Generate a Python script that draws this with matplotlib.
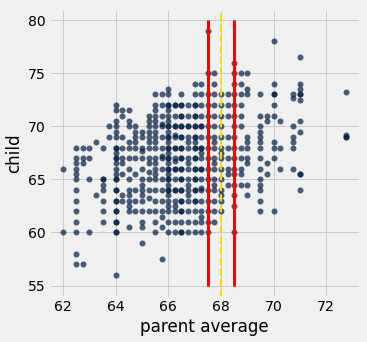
import numpy as np
from matplotlib import pyplot as plt

plt.style.use('fivethirtyeight')

# parent average columns and child heights
parent_cols = [62.0, 62.5, 62.75, 63.0, 63.25, 63.5, 63.75, 64.0, 64.25, 64.5,
               64.75, 65.0, 65.25, 65.5, 65.75, 66.0, 66.25, 66.5, 66.75, 67.0,
               67.25, 67.5, 67.75, 68.0, 68.25, 68.5, 68.75, 69.0, 69.5, 69.75,
               70.0, 70.25, 70.75, 71.0, 72.75]
child_cols = [
    [66, 60],
    [68, 67, 66.5, 66, 65.5, 65, 64, 63, 62, 61, 60, 58, 57],
    [68, 67, 66.5, 57],
    [68, 67, 65, 60],
    [68.5, 63.5],
    [68, 65, 65, 64.5, 64, 63, 62, 61],
    [70, 69],
    [72, 71.5, 70.5, 70, 69.5, 69, 68, 68, 67.5, 67, 67, 66.5, 66, 65.5, 65, 65,
     64, 64, 63, 63, 62, 62, 61, 61, 60, 60, 56],
    [71.5, 71, 69, 68, 67, 66.5, 65.5, 63.5, 63],
    [71.5, 70.5, 70, 68.5, 68, 67, 66, 65, 64, 63.5, 63, 62.5, 62, 60.5],
    [70, 69.5, 69, 68.5, 68, 67, 65.5, 64, 63, 62],
    [69.5, 69, 68, 67.7, 67, 66, 65, 64.5, 64, 63.5, 63, 62, 61, 60.5, 59],
    [71, 70.5, 70, 69.5, 69, 68.5, 68, 67, 66.5, 65.7, 65, 64, 63.2, 62],
    [73, 72, 71.5, 71, 70.5, 70, 69.5, 69, 68.5, 68, 67, 66.5, 66, 65.5, 65,
     64, 63, 62, 61, 60],
    [73, 72, 71, 70.2, 70, 69, 68, 67.2, 67, 66, 65, 64, 63, 62, 61.5, 60.5, 57.5],
    [73.5, 73, 72, 72, 71.5, 71, 70.5, 70, 70, 69.5, 69, 69, 68.5, 68, 68, 67.5,
     67, 67, 66.5, 66, 66, 65.5, 65, 65, 64.5, 64, 64, 63.5, 63, 62.5, 62, 61, 60],
    [72, 72, 71, 70, 70, 69.2, 69, 68, 68, 67, 66.7, 66, 66, 65, 64, 64, 63, 62.5,
     62, 61, 60],
    [73, 72, 72, 71, 71, 70, 70, 69, 69, 68, 68, 67, 67, 66, 66, 65, 65, 64, 64,
     63, 63, 62, 62, 61, 60, 60],
    [72, 71, 70, 70, 69, 68.5, 68, 67, 66.5, 66, 65, 64.5, 64, 63.5, 63, 62, 61, 60],
    [74, 73, 72, 72, 71, 71, 70, 70, 69, 69, 68.5, 68, 68, 67, 67, 66, 66, 65,
     65, 64, 64, 63, 63, 62, 61, 60],
    [74, 73, 72, 71, 70, 70, 69, 68, 68, 67.5, 67, 66, 66, 65, 64.2, 64, 63, 62,
     61.5, 61, 60],
    [79, 75, 73, 72, 71, 70, 69, 68, 67, 66, 65, 64, 63, 62, 61, 60],
    [75, 74, 73, 72, 71, 70, 69, 68.5, 68, 67, 66.5, 66, 65, 64.5, 64, 63, 62, 61],
    [73, 72, 71, 70, 69, 68, 67.5, 67, 66, 65, 64, 63.5, 63, 62],
    [73, 72, 71, 69, 68, 67, 66, 65.5, 64.5],
    [76, 75, 74, 73, 72, 71, 70, 69, 68, 67, 66, 65.5, 64.5, 63.5, 62.5, 60],
    [75, 74, 73, 72, 71, 70, 68, 67, 66, 65.5, 64.5],
    [75, 73.5, 73, 69, 68.5, 68, 67, 66.5, 64.5, 63.5],
    [73, 71, 70, 69.5, 69, 68.5, 68, 67, 66, 65, 64.5, 64, 63, 62],
    [71, 70.5, 66.5, 65.5],
    [78, 74, 73, 73, 72, 71, 68.5, 68, 67, 62],
    [70.5, 68, 66],
    [73, 72.7, 70, 69, 68.5, 68, 66],
    [76.5, 74, 73.5, 73, 73, 72.5, 70.5, 69.5, 65.5, 65.5, 64],
    [73.2, 69.2, 69, 69],
]

parent = np.concatenate([[x] * len(ys) for x, ys in zip(parent_cols, child_cols)])
child = np.concatenate(child_cols)

fig = plt.figure(figsize=(367 / 72, 342 / 72), dpi=72)
fig.patch.set_facecolor('#f0f0f0')
ax = fig.add_axes([49 / 367, 45.3 / 342, 311 / 367, 287.7 / 342])
ax.set_facecolor('#f0f0f0')

ax.scatter(parent, child, s=36, color='#001e42', alpha=0.7, linewidths=0)
ax.plot([67.5, 67.5], [55, 80], color='red', lw=3)
ax.plot([68.5, 68.5], [55, 80], color='red', lw=3)
ax.axvline(68, color='gold', lw=2, linestyle='--')

ax.set_xlim(61.46, 73.29)
ax.set_ylim(53.95, 81.05)
ax.set_xticks([62, 64, 66, 68, 70, 72])
ax.set_yticks([55, 60, 65, 70, 75, 80])
ax.tick_params(labelsize=14)
ax.set_xlabel('parent average', fontsize=16.8)
ax.set_ylabel('child', fontsize=16.8)

fig.savefig('out.png', dpi=72, facecolor=fig.get_facecolor())
